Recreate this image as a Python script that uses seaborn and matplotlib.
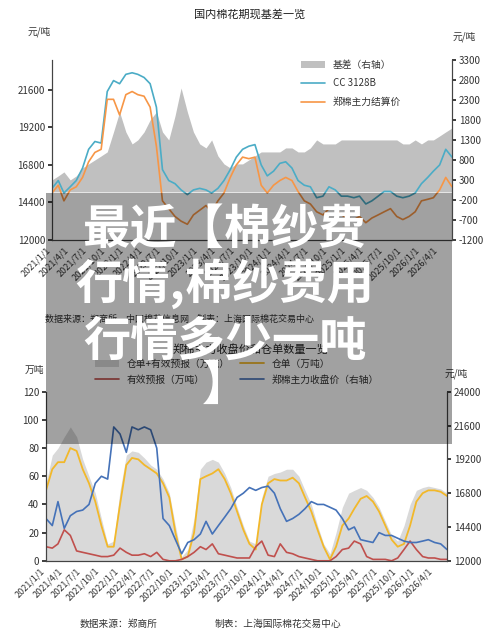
import matplotlib
matplotlib.use("Agg")
import matplotlib.pyplot as plt
import pandas as pd
import seaborn as sns
from matplotlib.patches import Rectangle

sns.set_theme(style="white")
plt.rcParams["font.family"] = ["Noto Sans CJK SC", "DejaVu Sans"]
plt.rcParams["axes.unicode_minus"] = False

months = pd.date_range("2021-01-01", periods=66, freq="MS")

# 上图：国内棉花期现基差
cc_3128b = [15300, 15800, 15000, 15400, 15800, 16600, 17800, 18300, 18200, 21500, 22200, 22000,
            22600, 22700, 22600, 22400, 22000, 20500, 16500, 15800, 15600, 15200, 14900, 15200,
            15300, 15200, 15000, 15300, 15800, 16500, 17300, 17800, 18000, 18100, 16800, 16100,
            16400, 16900, 17000, 16600, 15800, 15500, 15400, 14700, 14800, 15400, 15200, 14800,
            14800, 14700, 14800, 14300, 14500, 14800, 15100, 15100, 14800, 14700, 14800, 15000,
            15600, 16000, 16400, 16800, 17800, 17300]
zc_settle = [15000, 15500, 14500, 15200, 15400, 16000, 17000, 17600, 17800, 21000, 21000, 20000,
             21300, 21500, 21300, 21200, 20500, 18000, 14500, 14000, 13500, 13200, 13000, 13600,
             13900, 14200, 13800, 14500, 15000, 16000, 16800, 17300, 17200, 17300, 15500, 15000,
             15500, 15800, 16000, 15800, 15100, 14500, 14300, 13800, 13600, 14000, 14000, 13600,
             13400, 13300, 13500, 13100, 13400, 13600, 13800, 14000, 13500, 13300, 13500, 13800,
             14500, 14600, 14700, 15200, 16000, 15400]
basis = [300, 400, 500, 300, 400, 600, 700, 800, 900, 1000, 1500, 2000,
         1500, 1200, 1300, 1500, 1800, 2000, 1500, 1300, 1900, 2600, 2000, 1500,
         1200, 1100, 1300, 900, 700, 600, 700, 700, 800, 900, 1000, 1000,
         1000, 1000, 1100, 1100, 1000, 1000, 1100, 1300, 1200, 1200, 1200, 1300,
         1300, 1300, 1300, 1300, 1300, 1300, 1300, 1300, 1300, 1200, 1200, 1300,
         1200, 1300, 1300, 1400, 1500, 1600]

# 下图：郑棉主力收盘价和仓单数量
total_wr = [55, 75, 80, 88, 95, 88, 72, 60, 48, 30, 12, 14, 50, 75, 78, 77, 73, 68, 65, 58, 48, 25,
            3, 8, 30, 65, 70, 72, 70, 62, 52, 38, 25, 14, 12, 45, 60, 62, 63, 65, 65, 60, 50, 40,
            25, 12, 5, 20, 38, 48, 50, 52, 50, 45, 38, 28, 18, 14, 25, 40, 50, 52, 53, 52, 51, 48]
warehouse = [50, 65, 70, 70, 80, 78, 65, 55, 42, 25, 10, 10, 40, 68, 73, 72, 68, 65, 62, 55, 45, 20,
             1, 3, 20, 58, 60, 62, 65, 58, 48, 35, 22, 12, 8, 40, 55, 58, 57, 57, 59, 55, 45, 35,
             22, 10, 1, 10, 25, 30, 37, 44, 46, 42, 35, 25, 15, 10, 12, 25, 42, 48, 50, 50, 49, 46]
forecast = [10, 9, 12, 22, 18, 7, 6, 5, 4, 3, 3, 4, 9, 6, 4, 4, 5, 3, 6, 1, 0, 0,
            1, 3, 6, 10, 8, 12, 5, 4, 3, 2, 2, 2, 10, 14, 4, 3, 12, 6, 5, 3, 2, 1,
            0, 0, 0, 3, 8, 9, 14, 12, 3, 1, 1, 1, 0, 2, 8, 14, 8, 3, 2, 2, 1, 1]
close_price = [15000, 14500, 16200, 14300, 15200, 15500, 15600, 16000, 17500, 18000, 17800, 21500,
               21000, 19700, 21500, 21300, 21500, 21300, 20000, 15000, 14500, 13500, 12500, 13300,
               13500, 13900, 14800, 13900, 14500, 15100, 15700, 16500, 16800, 17200, 17000, 17200,
               17300, 16800, 15700, 14800, 15000, 15300, 15700, 16200, 16000, 16000, 15800, 15600,
               15000, 14200, 14400, 13500, 13400, 13300, 14000, 13800, 13800, 13600, 13400, 13300,
               13300, 13400, 13500, 13300, 13200, 12800]

tick_dates = pd.date_range("2021-01-01", "2026-04-01", freq="3MS")
txt = "#333333"


def style_dates(ax):
    ax.set_xlim(months[0], months[-1])
    ax.set_xticks(tick_dates)
    ax.set_xticklabels([f"{d.year}/{d.month}/1" for d in tick_dates], rotation=45,
                       ha="right", fontsize=6.5, color=txt)
    ax.tick_params(axis="x", length=3, pad=1)


fig = plt.figure(figsize=(5, 6.38), dpi=100)
fig.patch.set_facecolor("white")

# ---- 上图
ax1 = fig.add_axes([0.104, 0.624, 0.80, 0.282])
ax1r = ax1.twinx()
ax1r.fill_between(months, basis, 0, color="#c0c0c0", lw=0, label="基差（右轴）")
ax1r.set_ylim(-1200, 3300)
ax1r.set_yticks(range(-1200, 3301, 500))
ax1.set_zorder(ax1r.get_zorder() + 1)
ax1.patch.set_visible(False)
sns.lineplot(x=months, y=cc_3128b, ax=ax1, color="#4bacc6", lw=1.2, label="CC 3128B")
sns.lineplot(x=months, y=zc_settle, ax=ax1, color="#f79646", lw=1.2, label="郑棉主力结算价")
ax1.set_ylim(12000, 23520)
ax1.set_yticks(range(12000, 21601, 2400))
style_dates(ax1)
h1, l1 = ax1r.get_legend_handles_labels()
h2, l2 = ax1.get_legend_handles_labels()
ax1.legend(h1 + h2, l1 + l2, loc="upper left", bbox_to_anchor=(0.6, 1.05), frameon=False,
           fontsize=7, handlelength=2.5, labelspacing=0.9, labelcolor=txt)
fig.text(0.5, 0.972, "国内棉花期现基差一览", ha="center", fontsize=8, color="#222222")
fig.text(0.055, 0.946, "元/吨", fontsize=7, color=txt)
fig.text(0.905, 0.938, "元/吨", fontsize=7, color=txt)
fig.text(0.09, 0.495, "数据来源：郑商所、中国棉花信息网    制表：上海国际棉花交易中心",
         fontsize=6.5, color=txt)

# ---- 下图
ax2 = fig.add_axes([0.092, 0.121, 0.802, 0.265])
ax2r = ax2.twinx()
ax2.fill_between(months, total_wr, 0, color="#d9d9d9", lw=0, label="仓单+有效预报（万吨）")
sns.lineplot(x=months, y=warehouse, ax=ax2, color="#f2b82a", lw=1.3, label="仓单（万吨）")
sns.lineplot(x=months, y=forecast, ax=ax2, color="#c0504d", lw=1.2, label="有效预报（万吨）")
sns.lineplot(x=months, y=close_price, ax=ax2r, color="#4572b8", lw=1.2, label="郑棉主力收盘价（右轴）")
ax2.set_ylim(0, 120)
ax2.set_yticks(range(0, 121, 20))
ax2r.set_ylim(12000, 24000)
ax2r.set_yticks(range(12000, 24001, 2400))
style_dates(ax2)
h1, l1 = ax2.get_legend_handles_labels()
h2, l2 = ax2r.get_legend_handles_labels()
handles = [h1[0], h1[2], h1[1], h2[0]]
labels = [l1[0], l1[2], l1[1], l2[0]]
if ax2r.get_legend():
    ax2r.get_legend().remove()
ax2.legend(handles, labels, loc="lower left", bbox_to_anchor=(0.1, 0.99), ncol=2, frameon=False,
           fontsize=7, handlelength=2.5, columnspacing=1.0, labelspacing=0.6, labelcolor=txt)
fig.text(0.5, 0.447, "郑棉主力收盘价和仓单数量一览", ha="center", fontsize=8, color="#222222")
fig.text(0.05, 0.415, "万吨", fontsize=7, color=txt)
fig.text(0.89, 0.41, "元/吨", fontsize=7, color=txt)
fig.text(0.16, 0.018, "数据来源：郑商所", fontsize=7, color=txt)
fig.text(0.43, 0.018, "制表：上海国际棉花交易中心", fontsize=7, color=txt)

for ax in (ax1, ax1r, ax2, ax2r):
    ax.set_xlabel("")
    ax.set_ylabel("")
    ax.tick_params(axis="y", labelsize=7, labelcolor=txt, length=3, pad=2)
    ax.spines["top"].set_visible(False)
    for s in ("left", "right", "bottom"):
        ax.spines[s].set_color("#444444")
        ax.spines[s].set_linewidth(0.8)
for ax in (ax1, ax2):
    ax.tick_params(axis="y", left=True, right=False)
for ax in (ax1r, ax2r):
    ax.tick_params(axis="y", right=True, left=False)

# ---- 标题遮罩
fig.patches.append(Rectangle((0.092, 0.304), 0.812, 0.393, transform=fig.transFigure,
                             facecolor="black", alpha=0.37, lw=0, zorder=10))
for y, s in [(0.64, "最近【棉纱费"), (0.555, "行情,棉纱费用"), (0.465, "行情多少一吨"), (0.395, "】")]:
    fig.text(0.45, y, s, ha="center", va="center", fontsize=34, fontweight="bold",
             color="white", zorder=11)

fig.savefig("out.png", dpi=100)
